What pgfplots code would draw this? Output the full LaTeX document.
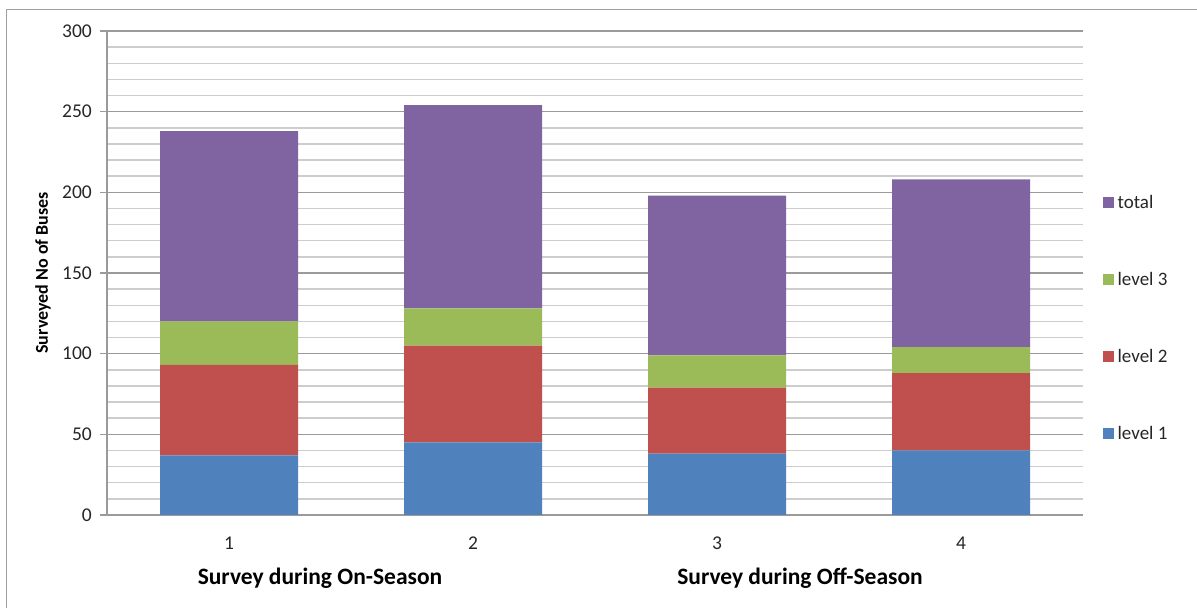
\documentclass[border=0pt]{standalone}
\usepackage{fontspec}
\setmainfont{Carlito}
\usepackage{pgfplots}
\pgfplotsset{compat=1.18}

\definecolor{lvlone}{HTML}{4F81BD}
\definecolor{lvltwo}{HTML}{C0504D}
\definecolor{lvlthree}{HTML}{9BBB59}
\definecolor{lvltotal}{HTML}{8064A2}
\definecolor{majgray}{HTML}{9A9A9A}
\definecolor{mingray}{HTML}{CDCDCD}
\definecolor{framegray}{HTML}{A0A0A0}
\definecolor{txt}{HTML}{262626}

\pgfplotsset{
  sq/.style={legend image code/.code={\fill[##1,draw=none] (0bp,-5.5bp) rectangle (11bp,5.5bp);}},
}

\begin{document}
\begin{tikzpicture}
\useasboundingbox (0,0) rectangle (1197bp,608bp);
\draw[framegray, line width=1.2bp] (6.5bp,0) -- (6.5bp,598.7bp) -- (1197bp,598.7bp);
\begin{axis}[
  at={(107bp,93bp)}, anchor=south west,
  scale only axis, width=976bp, height=484bp,
  ybar stacked, bar width=138bp,
  xmin=0.5, xmax=4.5, ymin=0, ymax=300,
  xtick={1,2,3,4}, ytick={0,50,...,300}, minor ytick={10,20,...,290},
  ymajorgrids, yminorgrids,
  major grid style={draw=majgray, line width=1.5bp},
  minor grid style={draw=mingray, line width=1.5bp},
  axis x line*=bottom, axis y line*=left,
  axis line style={draw=majgray, line width=1.6bp},
  tick align=outside, major tick length=7bp, minor tick length=0pt,
  tick style={draw=majgray, line width=1.5bp},
  xtick style={draw=none},
  /pgf/number format/assume math mode=true,
  ticklabel style={font=\fontsize{19.5bp}{21bp}\selectfont, text=txt},
  yticklabel style={anchor=east, inner sep=0pt, xshift=-8bp},
  xticklabel style={anchor=center, inner sep=0pt, yshift=-21bp},
  reverse legend, legend cell align=left,
  legend style={at={(1.0202,0.4077)}, anchor=west, draw=none, fill=none,
    inner sep=0pt, row sep=65bp, text=txt,
    font=\fontsize{19bp}{21bp}\selectfont,
    nodes={inner sep=0pt, text height=12bp, text depth=0bp},
    /tikz/every odd column/.append style={column sep=3.7bp}},
]
\addplot[fill=lvlone, draw=none, sq] coordinates {(1,37) (2,45) (3,38) (4,40)};
\addplot[fill=lvltwo, draw=none, sq] coordinates {(1,56) (2,60) (3,41) (4,48)};
\addplot[fill=lvlthree, draw=none, sq] coordinates {(1,27) (2,23) (3,20) (4,16)};
\addplot[fill=lvltotal, draw=none, sq] coordinates {(1,118) (2,126) (3,99) (4,104)};
\legend{level 1, level 2, level 3, total}
\end{axis}
\node[font=\bfseries\fontsize{23.5bp}{26bp}\selectfont, text=black] at (320bp,30bp) {Survey during On-Season};
\node[font=\bfseries\fontsize{23.5bp}{26bp}\selectfont, text=black] at (800bp,30bp) {Survey during Off-Season};
\node[font=\bfseries\fontsize{18bp}{20bp}\selectfont, text=black, rotate=90] at (43bp,335bp) {Surveyed No of Buses};
\end{tikzpicture}
\end{document}
